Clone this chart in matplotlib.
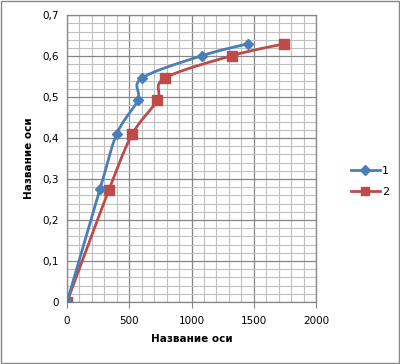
import numpy as np
import matplotlib
matplotlib.use('Agg')
import matplotlib.pyplot as plt
from matplotlib.patches import Rectangle

# data
x1 = [0, 265, 399, 568, 600, 1082, 1451]
y1 = [0, 0.275, 0.41, 0.492, 0.546, 0.601, 0.63]
x2 = [0, 337, 525, 725, 784, 1322, 1743]
y2 = [0, 0.274, 0.41, 0.492, 0.546, 0.601, 0.63]
labels = ['1', '2']

def smooth(xs, ys, n=30):
    # excel-like smoothed line (catmull-rom bezier)
    p = np.column_stack([xs, ys]).astype(float)
    out = [p[0]]
    for i in range(len(p) - 1):
        p0 = p[i - 1] if i > 0 else p[i]
        p1 = p[i]
        p2 = p[i + 1]
        p3 = p[i + 2] if i + 2 < len(p) else p[i + 1]
        c1 = p1 + (p2 - p0) / 6.0
        c2 = p2 - (p3 - p1) / 6.0
        t = np.linspace(0, 1, n)[1:, None]
        seg = ((1 - t) ** 3) * p1 + 3 * ((1 - t) ** 2) * t * c1 + 3 * (1 - t) * t ** 2 * c2 + t ** 3 * p2
        out.extend(seg)
    out = np.array(out)
    return out[:, 0], out[:, 1]

plt.rcParams['font.family'] = ['DejaVu Sans']

fig = plt.figure(figsize=(4, 3.64), dpi=100)
ax = fig.add_axes([0.1675, 0.1703, 0.6225, 0.788])

blue = '#4a7ebb'
red = '#be4b48'

sx, sy = smooth(x2, y2)
ax.plot(sx, sy, color=red, lw=2, zorder=3)
ax.plot(x2, y2, ls='none', marker='s', ms=7.5, color=red, zorder=4)
sx, sy = smooth(x1, y1)
ax.plot(sx, sy, color=blue, lw=2, zorder=5)
ax.plot(x1, y1, ls='none', marker='D', ms=5, color=blue, zorder=6)

# legend entries drawn by hand-style proxies
ax.plot([], [], color=blue, lw=2, marker='D', ms=5, label=labels[0])
ax.plot([], [], color=red, lw=2, marker='s', ms=6, label=labels[1])
leg = ax.legend(loc='center left', bbox_to_anchor=(1.1, 0.42), frameon=False,
                fontsize=8, handlelength=2.6, labelspacing=1.0, handletextpad=0.2)

ax.set_xlim(0, 2000)
ax.set_ylim(0, 0.7)
ax.set_xticks(np.arange(0, 2001, 500))
ax.set_yticks(np.arange(0, 0.71, 0.1))
ax.set_xticks(np.arange(0, 2001, 100), minor=True)
ax.set_yticks(np.arange(0, 0.701, 0.02), minor=True)
ax.set_yticklabels(['0', '0,1', '0,2', '0,3', '0,4', '0,5', '0,6', '0,7'])
ax.grid(which='major', color='#868686', lw=0.9)
ax.grid(which='minor', color='#c0c0c0', lw=0.8)
ax.set_axisbelow(True)
ax.tick_params(which='both', length=0, labelsize=7.5, pad=6)
ax.tick_params(axis='x', which='major', length=4, color='#868686', direction='out')
for s in ax.spines.values():
    s.set_color('#868686')
    s.set_linewidth(0.9)

ax.set_xlabel('Название оси', fontsize=7.5, fontweight='bold', labelpad=6)
ax.set_ylabel('Название оси', fontsize=7.5, fontweight='bold', labelpad=6)

fig.patches.append(Rectangle((0.003, 0.003), 0.994, 0.994, transform=fig.transFigure,
                             fill=False, edgecolor='#888888', lw=1))

fig.savefig('out.png', dpi=100)
